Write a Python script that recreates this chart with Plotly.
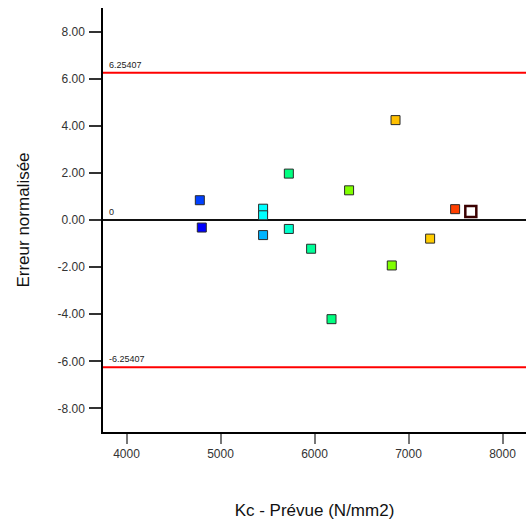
import plotly.graph_objects as go

# Predicted Kc values (N/mm2) and their normalised errors
kc_pred = [4780, 4801, 5453, 5453, 5453, 5727, 5727, 5964, 6181, 6368, 6822, 6862, 7230, 7496]
err_norm = [0.84, -0.32, 0.48, 0.20, -0.64, 1.97, -0.38, -1.22, -4.21, 1.26, -1.93, 4.24, -0.79, 0.46]
point_colors = ["#0040ff", "#0000ff", "#00ffff", "#00ffff", "#00b4ff", "#00ff80", "#00ffcc",
                "#00ff99", "#00ff80", "#80ff00", "#80ff00", "#ffc000", "#ffcc00", "#ff4000"]

# Highlighted (selected) run
sel_kc = [7663]
sel_err = [0.36]

# Control limits
limit_hi = 6.25407
limit_lo = -6.25407

y_ticks = [-8, -6, -4, -2, 0, 2, 4, 6, 8]
y_tick_text = ["-8.00", "-6.00", "-4.00", "-2.00", "0.00", "2.00", "4.00", "6.00", "8.00"]
x_ticks = [4000, 5000, 6000, 7000, 8000]

fig = go.Figure()

fig.add_trace(go.Scatter(
    x=kc_pred, y=err_norm, mode="markers",
    marker=dict(symbol="square", size=9, color=point_colors,
                line=dict(color="#2a2a2a", width=1)),
    showlegend=False, hoverinfo="x+y",
))

fig.add_trace(go.Scatter(
    x=sel_kc, y=sel_err, mode="markers",
    marker=dict(symbol="square", size=11, color="white",
                line=dict(color="#3a0000", width=2.5)),
    showlegend=False, hoverinfo="x+y",
))

# Limit lines and zero reference
for yv, col in [(limit_hi, "#ff0000"), (limit_lo, "#ff0000"), (0, "#111111")]:
    fig.add_shape(type="line", xref="paper", yref="y", x0=0, x1=1, y0=yv, y1=yv,
                  line=dict(color=col, width=2), layer="below")

for yv, txt in [(limit_hi, "6.25407"), (0, "0"), (limit_lo, "-6.25407")]:
    fig.add_annotation(xref="paper", yref="y", x=0.01, y=yv, text=txt,
                       showarrow=False, xanchor="left", yanchor="bottom", yshift=1,
                       font=dict(family="Liberation Sans, Arial, sans-serif", size=9, color="#222"))

fig.update_layout(
    width=526, height=521,
    margin=dict(l=103, r=0, t=8, b=89),
    paper_bgcolor="white", plot_bgcolor="white",
    font=dict(family="Liberation Sans, Arial, sans-serif", color="#222"),
    xaxis=dict(
        range=[3750, 8250], tickvals=x_ticks, ticktext=[str(v) for v in x_ticks],
        showgrid=False, zeroline=False, showline=True, linecolor="black", linewidth=1.5,
        ticks="outside", ticklen=10, tickcolor="#777", tickwidth=1.5,
        tickfont=dict(size=12, color="#333"),
        title=dict(text="Kc - Prévue (N/mm2)", font=dict(size=17, color="#111"), standoff=44),
    ),
    yaxis=dict(
        range=[-9, 9], tickvals=y_ticks, ticktext=y_tick_text,
        showgrid=False, zeroline=False, showline=True, linecolor="black", linewidth=1.5,
        ticks="outside", ticklen=12, tickcolor="#333", tickwidth=1.5,
        tickfont=dict(size=12, color="#333"), ticklabelstandoff=2,
        title=dict(text="Erreur normalisée", font=dict(size=17, color="#111"), standoff=24),
    ),
)

fig.write_html("out.html")
